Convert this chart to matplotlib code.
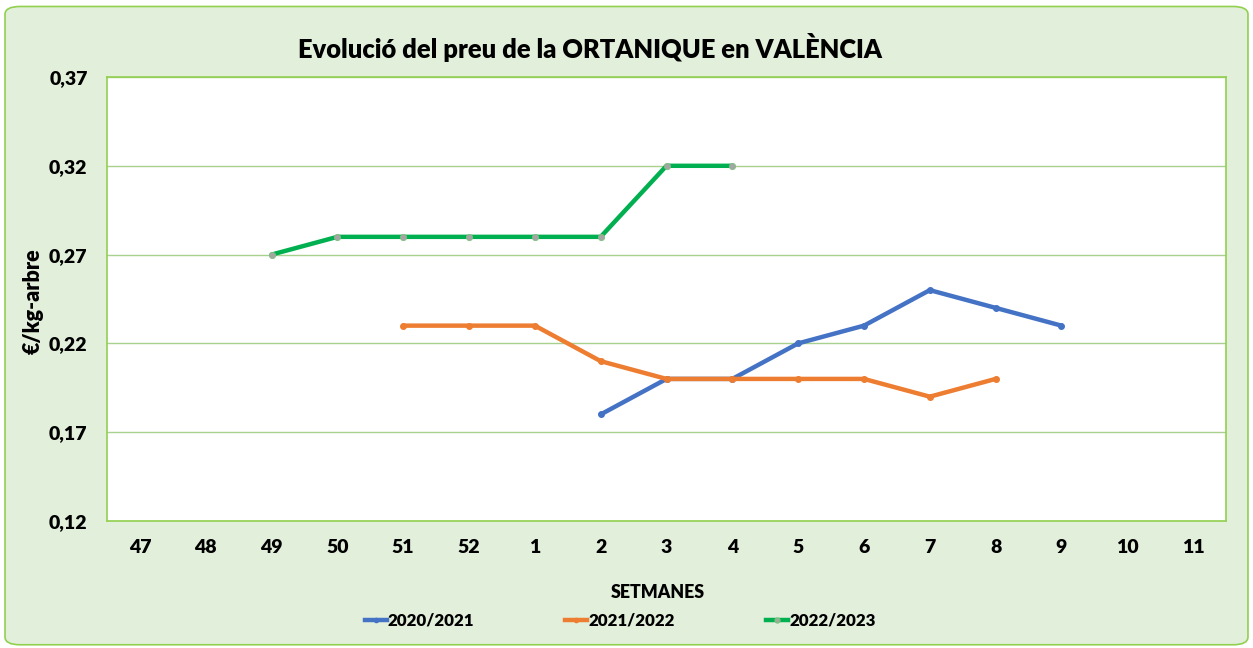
import matplotlib.pyplot as plt
from matplotlib.patches import FancyBboxPatch
from matplotlib.lines import Line2D

weeks = ["47", "48", "49", "50", "51", "52", "1", "2", "3", "4", "5", "6", "7", "8", "9", "10", "11"]

# week label -> price
s2021_weeks = ["2", "3", "4", "5", "6", "7", "8", "9"]
s2021_vals = [0.18, 0.20, 0.20, 0.22, 0.23, 0.25, 0.24, 0.23]

s2122_weeks = ["51", "52", "1", "2", "3", "4", "5", "6", "7", "8"]
s2122_vals = [0.23, 0.23, 0.23, 0.21, 0.20, 0.20, 0.20, 0.20, 0.19, 0.20]

s2223_weeks = ["49", "50", "51", "52", "1", "2", "3", "4"]
s2223_vals = [0.27, 0.28, 0.28, 0.28, 0.28, 0.28, 0.32, 0.32]

y_ticks = [0.12, 0.17, 0.22, 0.27, 0.32, 0.37]

plt.rcParams["font.family"] = ["Lato", "DejaVu Sans"]
W = "heavy"

fig = plt.figure(figsize=(12.53, 6.48), dpi=100)
fig.patch.set_facecolor("white")
bg = FancyBboxPatch((0.004, 0.005), 0.992, 0.985, boxstyle="round,pad=0,rounding_size=0.012",
                    transform=fig.transFigure, facecolor="#E2EFDA", edgecolor="#92D050",
                    linewidth=1.2, zorder=-10)
fig.patches.append(bg)

ax = fig.add_axes([107 / 1253, 1 - 521 / 648, (1226 - 107) / 1253, (521 - 77) / 648])
ax.set_facecolor("white")

pos = {w: i for i, w in enumerate(weeks)}

ax.plot([pos[w] for w in s2021_weeks], s2021_vals, color="#4472C4", lw=3.2,
        marker="o", ms=4, mfc="#4472C4", mec="#4472C4", solid_capstyle="round", zorder=3)
ax.plot([pos[w] for w in s2122_weeks], s2122_vals, color="#ED7D31", lw=3.2,
        marker="o", ms=4, mfc="#ED7D31", mec="#ED7D31", solid_capstyle="round", zorder=3)
ax.plot([pos[w] for w in s2223_weeks], s2223_vals, color="#00B050", lw=3.2,
        marker="o", ms=4.5, mfc="#A5A5A5", mec="#7FBF7F", mew=0.6, solid_capstyle="round", zorder=4)

ax.set_xlim(-0.5, len(weeks) - 0.5)
ax.set_ylim(0.12, 0.37)
ax.set_xticks(range(len(weeks)))
ax.set_xticklabels(weeks, fontsize=14, fontweight=W)
ax.set_yticks(y_ticks)
ax.set_yticklabels([f"{v:.2f}".replace(".", ",") for v in y_ticks], fontsize=14, fontweight=W)
ax.tick_params(length=0)
ax.tick_params(axis="x", pad=13)
ax.tick_params(axis="y", pad=14)
ax.grid(axis="y", color="#A9D18E", lw=1)
ax.set_axisbelow(True)
for sp in ax.spines.values():
    sp.set_color("#92D050")
    sp.set_linewidth(1.2)

fig.text(590 / 1253, 1 - 48 / 648, "Evolució del preu de la ORTANIQUE en VALÈNCIA",
         ha="center", va="center", fontsize=18.4, fontweight=W)
fig.text(33 / 1253, 1 - 301 / 648, "€/kg-arbre", ha="center", va="center",
         rotation=90, fontsize=15.5, fontweight=W)
fig.text(658 / 1253, 1 - 593 / 648, "SETMANES", ha="center", va="center",
         fontsize=12.8, fontweight=W)

handles = [
    Line2D([], [], color="#4472C4", lw=3.2, marker="o", ms=3, mfc="#4472C4", mec="#4472C4"),
    Line2D([], [], color="#ED7D31", lw=3.2, marker="o", ms=3, mfc="#ED7D31", mec="#ED7D31"),
    Line2D([], [], color="#00B050", lw=3.2, marker="o", ms=3.5, mfc="#A5A5A5", mec="#7FBF7F"),
]
fig.legend(handles, ["2020/2021", "2021/2022", "2022/2023"], loc="center",
           bbox_to_anchor=(620 / 1253, 1 - 621 / 648), ncol=3, frameon=False,
           prop={"size": 12.2, "weight": W}, handlelength=1.3, handletextpad=0.05,
           columnspacing=5.4)

fig.savefig("out.png", dpi=100, facecolor=fig.get_facecolor())
